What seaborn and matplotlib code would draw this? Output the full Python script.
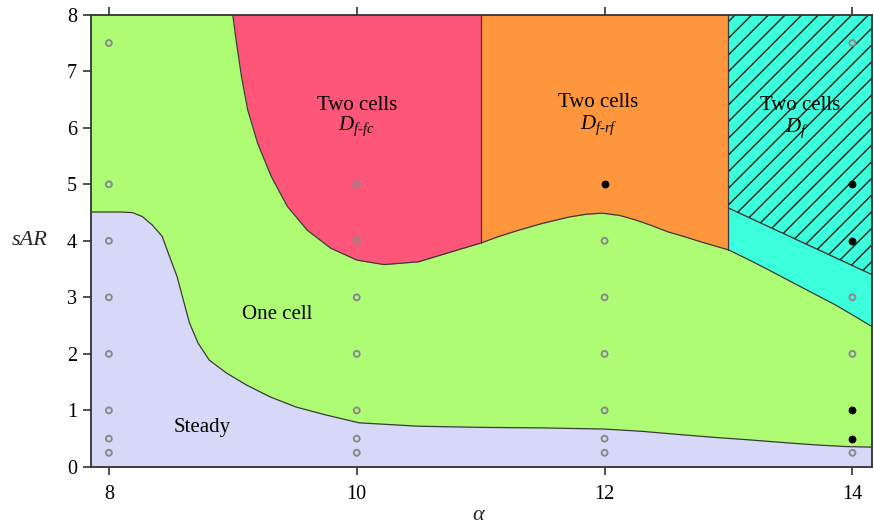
import numpy as np
import pandas as pd
import matplotlib
matplotlib.use("Agg")
import matplotlib.pyplot as plt
import seaborn as sns

# regime boundaries (alpha, sAR)
steady_x = [7.85, 8.09, 8.19, 8.27, 8.35, 8.43, 8.49, 8.55, 8.60, 8.65, 8.72,
            8.81, 8.95, 9.11, 9.30, 9.51, 9.75, 10.02, 10.5, 11.0, 11.5, 12.0,
            12.3, 12.62, 12.9, 13.16, 13.45, 13.70, 13.95, 14.16]
steady_y = [4.51, 4.51, 4.50, 4.43, 4.28, 4.08, 3.72, 3.37, 2.96, 2.55, 2.19,
            1.89, 1.66, 1.45, 1.24, 1.06, 0.92, 0.78, 0.72, 0.70, 0.69, 0.67,
            0.63, 0.57, 0.52, 0.48, 0.43, 0.39, 0.36, 0.35]

upper_x = [9.0, 9.03, 9.07, 9.12, 9.20, 9.31, 9.44, 9.60, 9.79, 10.0, 10.22,
           10.50, 10.77, 11.0, 11.15, 11.31, 11.50, 11.71, 11.85, 11.98, 12.12,
           12.25, 12.38, 12.51, 12.65, 12.78, 13.0, 13.16, 13.32, 13.45, 13.58,
           13.72, 13.86, 14.0, 14.16]
upper_y = [8.0, 7.50, 6.91, 6.32, 5.73, 5.14, 4.61, 4.19, 3.87, 3.66, 3.58,
           3.63, 3.81, 3.96, 4.08, 4.19, 4.31, 4.42, 4.47, 4.49, 4.45,
           4.37, 4.27, 4.16, 4.07, 3.98, 3.84, 3.67, 3.49, 3.34, 3.19,
           3.03, 2.87, 2.69, 2.48]

hatch_x = [13.0, 14.16]
hatch_y = [4.58, 3.40]

# simulated cases
open_alpha = [8] * 8 + [10] * 7 + [12] * 6 + [14] * 4
open_sar = [7.5, 5, 4, 3, 2, 1, 0.5, 0.25,
            5, 4, 3, 2, 1, 0.5, 0.25,
            4, 3, 2, 1, 0.5, 0.25,
            7.5, 3, 2, 0.25]
filled_alpha = [12, 14, 14, 14, 14]
filled_sar = [5, 5, 4, 1, 0.5]

c_steady = "#d7d7f7"
c_one = "#adfc74"
c_fc = "#fe5679"
c_rf = "#fe963d"
c_f = "#3cffdb"
line_c = "#3a3a3a"

sns.set_theme(style="ticks")
plt.rcParams["font.family"] = ["Liberation Serif", "DejaVu Serif"]
plt.rcParams["text.color"] = "black"
plt.rcParams["mathtext.fontset"] = "custom"
plt.rcParams["mathtext.rm"] = "Liberation Serif"
plt.rcParams["mathtext.it"] = "Liberation Serif:italic"
plt.rcParams["hatch.color"] = "#1a1a1a"
plt.rcParams["hatch.linewidth"] = 1.0

fig = plt.figure(figsize=(8.74, 5.27), dpi=100)
ax = fig.add_axes([0.104, 0.114, 0.894, 0.858])
ax.set_facecolor(c_one)

sx, sy = np.array(steady_x), np.array(steady_y)
ux, uy = np.array(upper_x), np.array(upper_y)

ax.fill_between(sx, 0, sy, color=c_steady, lw=0, zorder=1)
for lo, hi, col in [(9.0, 11.0, c_fc), (11.0, 13.0, c_rf), (13.0, 14.16, c_f)]:
    m = (ux >= lo) & (ux <= hi)
    ax.fill_between(ux[m], uy[m], 8, color=col, lw=0, zorder=1)
ax.fill_between(hatch_x, hatch_y, 8, facecolor="none", edgecolor="#1a1a1a",
                lw=0, hatch="//", zorder=2)

bounds = pd.DataFrame({"alpha": steady_x, "sAR": steady_y})
sns.lineplot(data=bounds, x="alpha", y="sAR", sort=False, color=line_c, lw=0.9,
             ax=ax, zorder=3)
upper = pd.DataFrame({"alpha": upper_x, "sAR": upper_y})
sns.lineplot(data=upper, x="alpha", y="sAR", sort=False, color=line_c, lw=0.9,
             ax=ax, zorder=3)
ax.plot(hatch_x, hatch_y, color=line_c, lw=1.0, zorder=3)
for xv in (11.0, 13.0):
    ax.plot([xv, xv], [np.interp(xv, ux, uy), 8], color=line_c, lw=0.9, zorder=3)

pts_open = pd.DataFrame({"alpha": open_alpha, "sAR": open_sar})
pts_fill = pd.DataFrame({"alpha": filled_alpha, "sAR": filled_sar})
sns.scatterplot(data=pts_open, x="alpha", y="sAR", s=18, facecolor="none",
                edgecolor="#8a8a8a", linewidth=1.4, ax=ax, zorder=4)
sns.scatterplot(data=pts_fill, x="alpha", y="sAR", s=26, color="black",
                edgecolor="black", linewidth=0.5, ax=ax, zorder=4)

# region labels
fs = 15
ax.text(10.0, 6.40, "Two cells", ha="center", va="center", fontsize=fs, zorder=5)
ax.text(10.0, 6.02, r"$D_{f\text{-}fc}$", ha="center", va="center", fontsize=fs, zorder=5)
ax.text(11.95, 6.44, "Two cells", ha="center", va="center", fontsize=fs, zorder=5)
ax.text(11.95, 6.04, r"$D_{f\text{-}rf}$", ha="center", va="center", fontsize=fs, zorder=5)
ax.text(13.58, 6.40, "Two cells", ha="center", va="center", fontsize=fs, zorder=5)
ax.text(13.55, 6.0, r"$D_{f}$", ha="center", va="center", fontsize=fs, zorder=5)
ax.text(9.36, 2.70, "One cell", ha="center", va="center", fontsize=fs, zorder=5)
ax.text(8.75, 0.70, "Steady", ha="center", va="center", fontsize=fs, zorder=5)

ax.set_xlim(7.855, 14.16)
ax.set_ylim(0, 8)
ax.set_xticks([8, 10, 12, 14])
ax.set_yticks(range(0, 9))
ax.tick_params(axis="both", which="major", direction="out", length=6, width=1.2,
               color="#333333", labelsize=14.5, labelcolor="black", top=True,
               right=False, labeltop=False, pad=4)
ax.tick_params(axis="x", pad=7)
for sp in ax.spines.values():
    sp.set_visible(True)
    sp.set_color("#333333")
    sp.set_linewidth(1.3)
    sp.set_zorder(6)

ax.set_xlabel(r"$\alpha$", fontsize=16, va="center")
ax.set_ylabel("sAR", fontsize=16, style="italic", rotation=0, va="center")
ax.xaxis.set_label_coords(0.497, -0.108)
ax.yaxis.set_label_coords(-0.078, 0.50)

fig.savefig("out.png", dpi=100)
